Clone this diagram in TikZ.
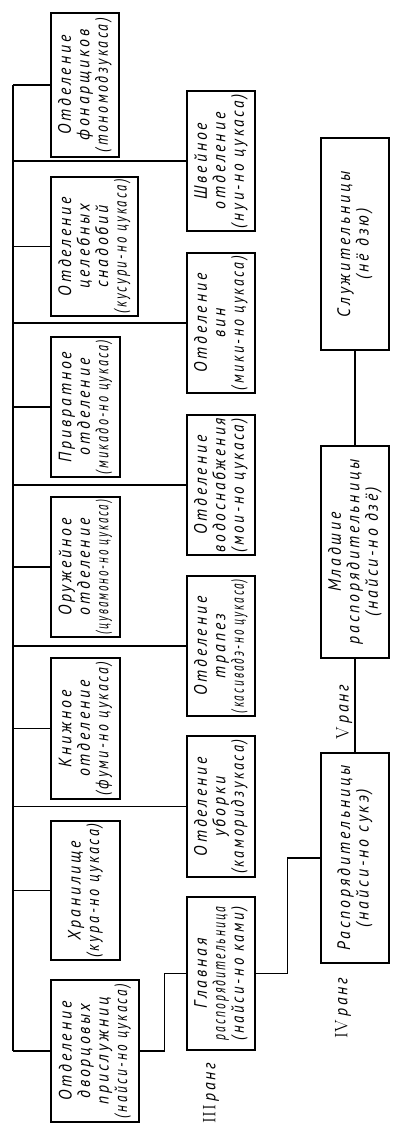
\documentclass[tikz,border=0pt]{standalone}
\usepackage{fontspec}
\newfontfamily\gostfont[LetterSpace=16,FakeStretch=0.88]{PT Sans}
\usepackage{tikz}
\usetikzlibrary{positioning,calc}

% squeeze a line of a box when it is longer than the box
\newsavebox\fitbox
\newlength\fitmax
\setlength\fitmax{134pt}
\newcommand\fitline[1]{\sbox\fitbox{#1}%
  \ifdim\wd\fitbox>\fitmax\resizebox{\fitmax}{\height}{\usebox\fitbox}%
  \else\usebox\fitbox\fi}

\begin{document}
\begin{tikzpicture}[
    x=1pt, y=-1pt,
    line width=1.4pt,
    unit/.style 2 args = {
      draw=black, rotate=90, align=center, inner sep=1pt,
      minimum width=#1, minimum height=#2,
      font=\gostfont\itshape\fontsize{18pt}{18.5pt}\selectfont,
    },
    link/.style = {black, line width=1.4pt},
    rank/.style = {
      rotate=90, inner sep=2pt,
      font=\fontsize{18pt}{20pt}\selectfont,
    },
  ]
  \useasboundingbox (0,0) rectangle (400,1130);
  % first row: the offices
  \node[unit={144pt}{68pt}] (Lamps)    at (85,85)    {Отделение\\ \fitline{фонарщиков}\\ \fitline{(тономодзукаса)}};
  \node[unit={139pt}{87pt}] (Remedies) at (94.5,246.5) {Отделение\\ целебных\\ снадобий\\ \fitline{(кусури-но цукаса)}};
  \node[unit={140pt}{69pt}] (Gate)     at (85.5,407) {\fitline{Привратное}\\ отделение\\ \fitline{(микадо-но цукаса)}};
  \node[unit={140pt}{69pt}] (Arms)     at (85.5,567) {\fitline{Оружейное}\\ отделение\\ \fitline{(цувамоно-но цукаса)}};
  \node[unit={141pt}{69pt}] (Books)    at (85.5,728.5) {Книжное\\ отделение\\ \fitline{(фуми-но цукаса)}};
  \node[unit={139pt}{69pt}] (Store)    at (85.5,890.5) {Хранилище\\ \fitline{(кура-но цукаса)}};
  \node[unit={142pt}{88pt}] (Maids)    at (95,1051)  {Отделение\\ дворцовых\\ \fitline{прислужниц}\\ \fitline{(найси-но цукаса)}};
  % second row
  \node[unit={140pt}{68pt}] (Sewing)   at (221,161)  {Швейное\\ отделение\\ \fitline{(нуи-но цукаса)}};
  \node[unit={140pt}{68pt}] (Wine)     at (221,323)  {Отделение\\ вин\\ \fitline{(мики-но цукаса)}};
  \node[unit={140pt}{68pt}] (Water)    at (221,485)  {Отделение\\ \fitline{водоснабжения}\\ \fitline{(мои-но цукаса)}};
  \node[unit={140pt}{68pt}] (Meals)    at (221,646)  {Отделение\\ трапез\\ \fitline{(касивадэ-но цукаса)}};
  \node[unit={141pt}{68pt}] (Cleaning) at (221,806.5) {Отделение\\ уборки\\ \fitline{(каморидзукаса)}};
  \node[unit={153pt}{68pt}] (Chief)    at (221,973.5) {Главная\\ \fitline{распорядительница}\\ \fitline{(найси-но ками)}};
  % third row: the ranks
  \node[unit={210pt}{68pt}] (Stewards) at (355,858)  {Распорядительницы\\ (найси-но сукэ)};
  \node[unit={212pt}{68pt}] (Junior)   at (355,552)  {Младшие\\ распорядительницы\\ (найси-но дзё)};
  \node[unit={212pt}{68pt}] (Servants) at (355,244)  {Служительницы\\ (нё дзю)};

  \coordinate (BusTop) at (13,85);
  \coordinate (BusEnd) at (13,1051);
  \draw[link] (BusTop) -- (BusEnd);
  \foreach \u in {Lamps,Remedies,Gate,Arms,Books,Store,Maids,
                  Sewing,Wine,Water,Meals,Cleaning}
    \draw[link] (\u.north) -- (\u.north -| BusTop);
  \draw[link] (Maids.south) -- ++(25,0) |- (Chief.north);
  \draw[link] (Chief.south) -- ++(32,0) |- (Stewards.north);
  \draw[link] (Stewards.east) -- (Junior.west)
    node[rank, anchor=south, pos=.43] (RankFive) {V\,{\gostfont\itshape ранг}};
  \draw[link] (Junior.east) -- (Servants.west);
  \node[rank] (RankFour)  at (343,1008) {IV\,{\gostfont\itshape ранг}};
  \node[rank] (RankThree) at (211,1093) {III\,{\gostfont\itshape ранг}};
\end{tikzpicture}
\end{document}
